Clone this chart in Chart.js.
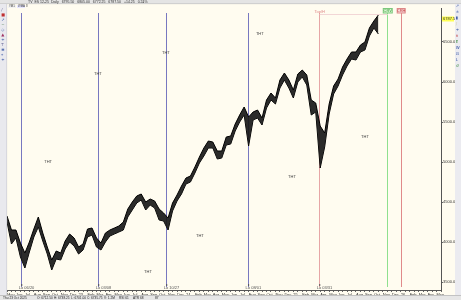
<!DOCTYPE html>
<html><head><meta charset="utf-8">
<script src="https://cdn.jsdelivr.net/npm/chart.js@4"></script>
<style>html,body{margin:0;padding:0;background:#fffcf0;overflow:hidden}canvas{display:block}</style>
</head><body>
<canvas id="c" width="461" height="300"></canvas>
<script>
// ---- data ----
const monthLabels = ['May','Jun','Jul','Aug','Sep','Oct','Nov','Dec',
  '23','Feb','Mar','Apr','May','Jun','Jul','Aug','Sep','Oct','Nov','Dec',
  '24','Feb','Mar','Apr','May','Jun','Jul','Aug','Sep','Oct','Nov','Dec',
  '25','Feb','Mar','Apr','May','Jun','Jul','Aug','Sep','Oct','Nov','Dec',
  '26','Feb','Mar','Apr','May'];
const highs = [4325,4150,4150,3987.5,3862.5,4000,4162.5,4312.5,4112.5,3937.5,
  3775,3887.5,3862.5,4012.5,4100,4050,3937.5,3975,4162.5,4175,
  4050,3987.5,4112.5,4150,4175,4200,4250,4412.5,4500,4575,
  4600,4500,4537.5,4512.5,4412.5,4362.5,4300,4487.5,4587.5,4700,
  4800,4825,4937.5,5062.5,5175,5262.5,5250,5137.5,5137.5,5312.5,
  5325,5475,5587.5,5687.5,5562.5,5625,5650,5550,5775,5862.5,
  5800,6025,6112.5,6025,5900,6100,6150,6087.5,5775,5737.5,
  5450,5362.5,5725,5950,6037.5,6187.5,6287.5,6375,6375,6462.5,
  6500,6675,6762.5,6837.5];
const lows = [4250,3975,4050,3812.5,3675,3875,4062.5,4187.5,4012.5,3850,
  3650,3787.5,3775,3912.5,4000,3950,3850,3900,4062.5,4087.5,
  3937.5,3900,4000,4075,4100,4125,4150,4312.5,4400,4487.5,
  4525,4400,4462.5,4425,4275,4262.5,4150,4387.5,4512.5,4600,
  4725,4750,4862.5,4987.5,5075,5175,5175,5037.5,5050,5212.5,
  5225,5387.5,5500,5587.5,5200,5525,5550,5462.5,5675,5775,
  5725,5925,6025,5925,5800,6000,6062.5,5962.5,5587.5,5625,
  4925,5187.5,5600,5850,5950,6087.5,6200,6287.5,6275,6375,
  6400,6575,6675,6600];
const yTicks = [3500,4000,4500,5000,5500,6000,6500];
const lastPrice = 6787.50;
// cycle markers: category index (half-month steps from May 2022)
const cycleIdx = [3.3, 20.5, 35.7, 54.0, 69.9, 85.1, 88.1];
const cycleColor = ['#7878c0','#7878c0','#7878c0','#7878c0','#e6a6a6','#8fe08f','#e08a8a'];
const cycleText = ['Lo 06/20','Lo 03/08','Lo 10/27','Lo 08/01','Lo 03/31','',''];
// THT annotations
const thtIdx = [9.2, 20.3, 35.5, 56.5, 31.5, 43.1, 63.7, 80.0];
const thtVal = [5000, 6100, 6362.5, 6600, 3625, 4075, 4812.5, 5312.5];

const categories = [];
monthLabels.forEach((m,k)=>{ categories.push(m+' 1/'+k); categories.push(m+' 16/'+k); });

const chrome = {
  id:'chrome',
  beforeDraw(ch){
    const c = ch.ctx; c.save();
    c.fillStyle = '#fffcf0'; c.fillRect(0,0,461,300);
    c.restore();
  },
  beforeDatasetsDraw(ch){
    const c = ch.ctx, x = ch.scales.x, a = ch.chartArea;
    c.save();
    c.lineWidth = 1;
    for (let i = 0; i < cycleIdx.length; i++){
      const px = Math.floor(x.getPixelForValue(cycleIdx[i])) + 0.5;
      c.strokeStyle = cycleColor[i];
      c.beginPath(); c.moveTo(px, a.top+5); c.lineTo(px, a.bottom-3); c.stroke();
    }
    const p1 = x.getPixelForValue(cycleIdx[4]), p2 = x.getPixelForValue(cycleIdx[5]);
    c.strokeStyle = '#f2d6d6'; c.beginPath(); c.moveTo(p1, a.top+6.5); c.lineTo(p2, a.top+6.5); c.stroke();
    c.restore();
  },
  afterDraw(ch){
    const c = ch.ctx, x = ch.scales.x, y = ch.scales.y, a = ch.chartArea;
    c.save();
    c.textBaseline = 'middle';
    c.font = '4px "Liberation Sans", Arial'; c.fillStyle = '#444'; c.textAlign = 'center';
    thtIdx.forEach((v,i)=>{ c.fillText('THT', x.getPixelForValue(v), y.getPixelForValue(thtVal[i])); });
    c.textAlign = 'left'; c.fillStyle = '#555';
    cycleIdx.forEach((v,i)=>{
      if(!cycleText[i]) return;
      const px = x.getPixelForValue(v);
      c.fillText(cycleText[i], px-3, a.bottom-2.5);
      c.fillRect(px-0.5, a.bottom-6, 1, 2);
    });
    let px = x.getPixelForValue(cycleIdx[4]);
    c.textAlign='center'; c.fillStyle = '#e08a8a'; c.fillText('Top/H', px, a.top+4);
    px = x.getPixelForValue(cycleIdx[5]);
    c.fillStyle='#d6f5d0'; c.fillRect(px-4.5, a.top, 9, 5); c.strokeStyle='#7cc87c'; c.strokeRect(px-4.5, a.top+0.5, 9, 4.5);
    c.fillStyle='#3a9a3a'; c.fillText('CRV', px, a.top+3);
    px = x.getPixelForValue(cycleIdx[6]);
    c.fillStyle='#f8d8d8'; c.fillRect(px-4, a.top, 8, 5); c.strokeStyle='#d88'; c.strokeRect(px-4, a.top+0.5, 8, 4.5);
    c.fillStyle='#c03a3a'; c.fillText('CRH', px, a.top+3);
    const py = y.getPixelForValue(lastPrice);
    c.fillStyle = '#ffff55'; c.fillRect(a.right+1, py-2.5, 12, 5);
    c.fillStyle = '#333'; c.textAlign='left'; c.fillText(lastPrice.toFixed(2), a.right+2, py);
    c.fillStyle = '#e4e4e4'; c.fillRect(0,0,461,4);
    c.fillStyle = '#bbb'; c.fillRect(0,3.5,461,0.6);
    c.fillStyle = '#333'; c.font = '3.5px "Liberation Sans", Arial'; c.textAlign='left';
    c.fillText('TV  ES 12-25  Daily   6795.50   6805.00   6772.25   6787.50   +14.25   0.21%', 28, 2);
    c.fillText('+', 142, 2);
    c.fillStyle = '#f2f2f2'; c.fillRect(8,5,8,3); c.fillStyle='#e6e6ff'; c.fillRect(17,5,8,3);
    c.fillStyle = '#333'; c.font = '2.8px "Liberation Sans", Arial';
    c.fillText('YM1', 9, 6.5); c.fillText('WMA', 18, 6.5); c.fillText('8', 26, 6.5);
    c.fillStyle = '#e9e9ee'; c.fillRect(0,4,7,292);
    c.fillStyle = '#c8c8d0'; c.fillRect(6.5,4,0.6,292);
    const lc = ['#6a6a9a','#c03030','#3050a0','#508050','#3050a0','#a03060','#3050a0','#6a6a9a','#3050a0','#3050a0','#2a4aa0'];
    c.font = '4px "DejaVu Sans"';
    lc.forEach((col,i)=>{ c.fillStyle = col; c.fillText(['/','■','↗','~','◇','▲','+','T','≡','⌖','+'][i], 1.3, 10+i*5); });
    c.fillStyle = '#ebebf0'; c.fillRect(455,4,6,292);
    const rc = ['#3050a0','#3050a0','#3050a0','#c8c8a0','#3050a0','#c03030','#3a8a3a','#3050a0','#3050a0','#3050a0','#3a8a3a'];
    rc.forEach((col,i)=>{ c.fillStyle = col; c.fillText(['↗','±','▮','/','+','n','E','W','⊡','L','↺'][i], 455.8, 6+i*6); });
    c.fillStyle = '#e6e6e6'; c.fillRect(0,295,461,5);
    c.fillStyle = '#aaa'; c.fillRect(0,295,461,0.6);
    c.fillStyle = '#222'; c.font = '3.2px "Liberation Sans", Arial';
    ['Thu 23 Oct 2025','O: 6712.50','H: 6738.25','L: 6701.00','C: 6735.75','V: 1.2M','RSI 61','ATR 68','87'].forEach((t,i)=>{
      c.fillText(t, 3+[0,34,51,68,84,101,116,130,152][i], 297.8);
    });
    c.restore();
  }
};

new Chart(document.getElementById('c'), {
  type:'line',
  data:{
    labels: categories,
    datasets:[
      {label:'High', data: highs, borderColor:'#000', borderWidth:1, pointRadius:0, tension:0,
       fill:'+1', backgroundColor:'rgba(25,25,25,0.92)'},
      {label:'Low', data: lows, borderColor:'#000', borderWidth:1, pointRadius:0, tension:0, fill:false}
    ]
  },
  options:{
    responsive:false, animation:false, devicePixelRatio:1,
    layout:{padding:{left:7, top:8, right:6, bottom:5}},
    plugins:{legend:{display:false}, tooltip:{enabled:false}},
    scales:{
      x:{type:'category', offset:false,
        grid:{display:true, drawOnChartArea:false, tickLength:2, color:'#666', offset:false},
        border:{display:true, color:'#555', width:1},
        ticks:{autoSkip:false, maxRotation:0, minRotation:0, padding:0, align:'start', color:'#333',
          font:{size:4, family:'"Liberation Sans", Arial'},
          callback:(v,i)=> i%2===0 ? monthLabels[i/2] : ''},
        afterFit(s){ s.height = 5; }
      },
      y:{position:'right', min:3400, max:6925,
        afterBuildTicks(s){ s.ticks = yTicks.map(v=>({value:v})); },
        grid:{display:true, drawOnChartArea:false, tickLength:2, color:'#666'},
        border:{display:true, color:'#555', width:1},
        ticks:{padding:0, color:'#333', font:{size:4, family:'"Liberation Sans Narrow", "Liberation Sans", Arial'},
          callback:v=>Number(v).toFixed(2)},
        afterFit(s){ s.width = 14; }
      }
    }
  },
  plugins:[chrome]
});
</script>
</body></html>
